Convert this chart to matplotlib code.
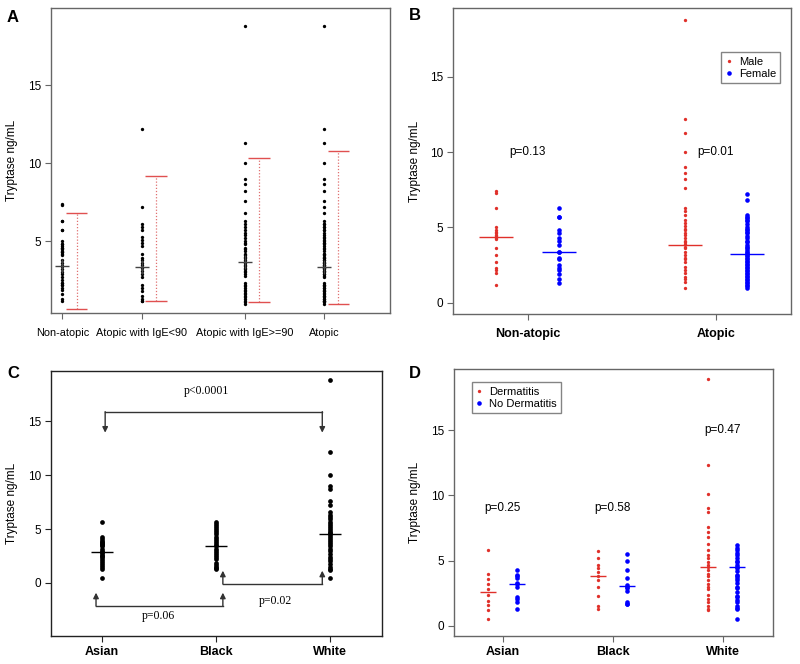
import matplotlib
matplotlib.use('Agg')
import matplotlib.pyplot as plt
import numpy as np

plt.rcParams['font.family'] = ['Liberation Sans', 'DejaVu Sans']

# ---------------- Panel A data ----------------
a_categories = ["Non-atopic", "Atopic with IgE<90", "Atopic with IgE>=90", "Atopic"]
a_positions = [1.0, 2.0, 3.3, 4.3]
a_ige_lt90 = [12.2, 7.2, 6.1, 5.9, 5.7, 5.3, 5.1, 4.9, 4.7, 4.2, 3.9, 3.8, 3.6, 3.5,
              3.3, 3.1, 2.9, 2.7, 2.2, 2.0, 1.8, 1.5, 1.3, 1.2, 1.2]
a_ige_ge90 = [18.8, 11.3, 10.0, 9.0, 8.7, 8.2, 7.6, 6.8, 6.3, 6.1, 5.9, 5.7, 5.5, 5.4,
              5.2, 5.0, 4.9, 4.8, 4.6, 4.5, 4.4, 4.2, 4.1, 4.0, 3.9, 3.8, 3.7, 3.6,
              3.5, 3.4, 3.3, 3.2, 3.1, 3.0, 2.9, 2.8, 2.3, 2.2, 2.1, 2.0, 1.9, 1.8,
              1.7, 1.6, 1.5, 1.4, 1.3, 1.2, 1.1, 1.0]
a_center = [3.44, 3.37, 3.69, 3.37]
a_upper = [6.79, 9.21, 10.34, 10.81]
a_lower = [0.66, 1.17, 1.09, 0.98]

# ---------------- Panel B data ----------------
b_categories = ["Non-atopic", "Atopic"]
b_male_nonatopic = [7.4, 7.3, 6.3, 5.0, 4.8, 4.7, 4.6, 4.5, 4.4, 4.3, 4.2, 3.6, 3.2,
                    2.7, 2.3, 2.2, 2.0, 1.2]
b_female_nonatopic = [6.3, 5.7, 5.7, 4.8, 4.6, 4.3, 4.1, 3.8, 3.4, 3.4, 3.0, 2.9, 2.5,
                      2.3, 2.2, 1.9, 1.6, 1.3]
b_male_atopic = [18.8, 12.2, 11.3, 10.0, 9.0, 8.6, 8.2, 7.6, 6.3, 6.1, 5.8, 5.5, 5.3,
                 5.1, 4.9, 4.8, 4.6, 4.5, 4.3, 4.1, 4.0, 3.9, 3.7, 3.6, 3.4, 3.2, 3.0,
                 2.9, 2.7, 2.4, 2.2, 2.0, 1.7, 1.6, 1.4, 1.0]
b_female_atopic = [7.2, 6.8, 5.8, 5.7, 5.6, 5.5, 5.4, 5.2, 5.0, 4.9, 4.8, 4.7, 4.6, 4.4,
                   4.3, 4.1, 4.0, 3.8, 3.7, 3.6, 3.5, 3.4, 3.3, 3.2, 3.1, 3.0, 2.9, 2.8,
                   2.7, 2.6, 2.5, 2.4, 2.3, 2.2, 2.1, 2.0, 1.9, 1.8, 1.7, 1.6, 1.5, 1.4,
                   1.3, 1.2, 1.1, 1.0]
b_male_mean = [4.35, 3.83]
b_female_mean = [3.35, 3.23]
b_pvalues = ["p=0.13", "p=0.01"]

# ---------------- Panel C data ----------------
c_categories = ["Asian", "Black", "White"]
c_asian = [5.7, 4.3, 4.1, 3.9, 3.8, 3.7, 3.6, 3.5, 3.4, 3.2, 3.0, 2.9, 2.8, 2.6, 2.5,
           2.4, 2.2, 2.0, 1.9, 1.7, 1.5, 1.3, 0.5]
c_black = [5.7, 5.5, 5.3, 5.1, 4.9, 4.7, 4.5, 4.3, 4.1, 3.9, 3.7, 3.5, 3.4, 3.2, 3.0,
           2.8, 2.6, 2.4, 2.2, 1.9, 1.7, 1.5, 1.4, 1.3]
c_white = [18.8, 12.2, 10.0, 9.0, 8.7, 7.6, 7.2, 6.6, 6.3, 6.1, 5.9, 5.7, 5.5, 5.3, 5.1,
           4.9, 4.7, 4.6, 4.5, 4.4, 4.2, 4.0, 3.8, 3.6, 3.4, 3.2, 3.0, 2.7, 2.4, 2.2,
           2.0, 1.8, 1.5, 1.3, 1.2, 0.5]
c_mean = [2.91, 3.47, 4.55]
c_pvalues = ["p<0.0001", "p=0.06", "p=0.02"]

# ---------------- Panel D data ----------------
d_categories = ["Asian", "Black", "White"]
d_derm = [
    [5.8, 4.0, 3.6, 3.2, 2.8, 2.4, 1.9, 1.6, 1.2, 0.5],
    [5.7, 5.2, 4.7, 4.4, 4.1, 3.8, 3.5, 3.0, 2.3, 1.5, 1.3],
    [18.9, 12.3, 10.1, 9.0, 8.7, 7.6, 7.2, 6.8, 6.3, 5.8, 5.4, 5.2, 4.9, 4.7, 4.5, 4.3,
     4.0, 3.8, 3.5, 3.2, 3.0, 2.8, 2.4, 2.1, 1.8, 1.5, 1.3, 1.2],
]
d_noderm = [
    [4.3, 3.9, 3.8, 3.7, 3.3, 3.2, 3.0, 2.2, 2.1, 1.8, 1.3],
    [5.5, 5.0, 4.3, 3.7, 3.1, 3.0, 2.9, 2.7, 1.8, 1.7, 1.7],
    [6.2, 6.0, 5.8, 5.6, 5.4, 5.2, 5.0, 4.9, 4.7, 4.5, 4.4, 4.2, 3.9, 3.8, 3.7, 3.5,
     3.3, 3.0, 2.9, 2.6, 2.3, 2.2, 2.0, 1.8, 1.5, 1.4, 1.3, 0.5],
]
d_derm_mean = [2.58, 3.83, 4.54]
d_noderm_mean = [3.22, 3.06, 4.54]
d_pvalues = ["p=0.25", "p=0.58", "p=0.47"]

# ---------------- styling helpers ----------------
RED = '#e0302a'
BLUE = '#0000ff'
GRAY = '#666666'
W, H = 800, 664

fig = plt.figure(figsize=(8, 6.64), dpi=100)


def make_axes(x0, y0, x1, y1):
    return fig.add_axes([x0 / W, 1 - y1 / H, (x1 - x0) / W, (y1 - y0) / H])


def style(ax, spine_color=GRAY, bold_x=False):
    for s in ax.spines.values():
        s.set_color(spine_color)
        s.set_linewidth(1.0)
    ax.tick_params(direction='out', length=4, width=0.8, color=spine_color,
                   labelsize=8.5, pad=3)
    ax.set_ylabel('Tryptase ng/mL', fontsize=8.5, labelpad=7)
    if bold_x:
        for t in ax.get_xticklabels():
            t.set_fontweight('bold')
            t.set_fontsize(9)


# ---------------- Panel A ----------------
axA = make_axes(51, 8.3, 390, 313)
a_groups = [b_male_nonatopic + b_female_nonatopic, a_ige_lt90, a_ige_ge90,
            a_ige_lt90 + a_ige_ge90]
for x, vals, c, lo, hi in zip(a_positions, a_groups, a_center, a_lower, a_upper):
    axA.plot(np.full(len(vals), x), vals, 'o', ms=2.4, color='black', mec='none')
    axA.plot([x], [c], '+', ms=10, mew=1.0, color='#444444')
    ex = x + 0.18
    axA.vlines(ex, lo, hi, colors='#e07070', linestyles=(0, (1, 1.5)), lw=0.9)
    axA.hlines([lo, hi], ex - 0.137, ex + 0.137, colors='#e05050', lw=1.0)
axA.set_xlim(0.858, 5.13)
axA.set_ylim(0.40, 19.94)
axA.set_yticks([5, 10, 15])
axA.set_xticks(a_positions)
axA.set_xticklabels(a_categories)
style(axA)
axA.tick_params(axis='x', pad=7, labelsize=7.8)

# ---------------- Panel B ----------------
axB = make_axes(453.3, 8.3, 790.7, 314.3)
b_pos = [1, 2]
off = 1 / 6
male_groups = [b_male_nonatopic, b_male_atopic]
female_groups = [b_female_nonatopic, b_female_atopic]
for i, x in enumerate(b_pos):
    axB.plot(np.full(len(male_groups[i]), x - off), male_groups[i], 'o', ms=2.4,
             color=RED, mec='none', label='Male' if i == 0 else None)
    axB.plot(np.full(len(female_groups[i]), x + off), female_groups[i], 'o', ms=3.3,
             color=BLUE, mec='none', label='Female' if i == 0 else None)
    axB.hlines(b_male_mean[i], x - off - 0.09, x - off + 0.09, colors=RED, lw=1.0)
    axB.hlines(b_female_mean[i], x + off - 0.09, x + off + 0.09, colors=BLUE, lw=1.0)
    axB.text(x, 10, b_pvalues[i], ha='center', va='center', fontsize=8.5)
axB.set_xlim(0.605, 2.397)
axB.set_ylim(-0.77, 19.55)
axB.set_yticks([0, 5, 10, 15])
axB.set_xticks(b_pos)
axB.set_xticklabels(b_categories)
style(axB, bold_x=True)
axB.tick_params(axis='x', pad=6)
legB = axB.legend(loc='upper right', bbox_to_anchor=(786 / W, 1 - 46.7 / H),
                  bbox_transform=fig.transFigure, fontsize=8, frameon=True,
                  fancybox=False, edgecolor=GRAY, handlelength=0.6,
                  handletextpad=0.6, borderpad=0.4, labelspacing=0.2, markerscale=1.0)
legB.get_frame().set_linewidth(1.0)

# ---------------- Panel C ----------------
axC = make_axes(51, 370.7, 381.7, 636)
c_pos = [1, 2, 3]
for x, vals, m in zip(c_pos, [c_asian, c_black, c_white], c_mean):
    axC.plot(np.full(len(vals), x), vals, 'o', ms=3.4, color='black', mec='none')
    axC.hlines(m, x - 0.095, x + 0.095, colors='black', lw=1.0)
    axC.vlines(x, m - 0.4, m + 0.4, colors='black', lw=1.0)

LC = '#333333'
arrow_kw = dict(arrowstyle='-|>', color=LC, lw=1.0, mutation_scale=8,
                shrinkA=0, shrinkB=0)


def bracket(ax, x1, x2, ybar, ytip):
    ax.plot([x1, x2], [ybar, ybar], color=LC, lw=1.0)
    for xx in (x1, x2):
        ax.annotate('', xy=(xx, ytip), xytext=(xx, ybar), arrowprops=arrow_kw)


bracket(axC, 1.03, 2.93, 15.9, 13.95)
bracket(axC, 0.95, 2.06, -2.14, -0.9)
bracket(axC, 2.06, 2.93, -0.1, 1.14)
serif = ['Liberation Serif', 'DejaVu Serif']
axC.text(1.92, 17.8, c_pvalues[0], ha='center', va='center', fontsize=8.5, family=serif)
axC.text(1.50, -3.06, c_pvalues[1], ha='center', va='center', fontsize=8.5, family=serif)
axC.text(2.52, -1.64, c_pvalues[2], ha='center', va='center', fontsize=8.5, family=serif)
axC.set_xlim(0.556, 3.45)
axC.set_ylim(-4.92, 19.7)
axC.set_yticks([0, 5, 10, 15])
axC.set_xticks(c_pos)
axC.set_xticklabels(c_categories)
style(axC, spine_color='#222222', bold_x=True)

# ---------------- Panel D ----------------
axD = make_axes(454, 369.3, 773.3, 636)
d_pos = [1, 2, 3]
doff = 0.13
for i, x in enumerate(d_pos):
    axD.plot(np.full(len(d_derm[i]), x - doff), d_derm[i], 'o', ms=2.4, color=RED,
             mec='none', label='Dermatitis' if i == 0 else None)
    axD.plot(np.full(len(d_noderm[i]), x + doff), d_noderm[i], 'o', ms=3.3, color=BLUE,
             mec='none', label='No Dermatitis' if i == 0 else None)
    axD.hlines(d_derm_mean[i], x - doff - 0.073, x - doff + 0.073, colors=RED, lw=1.0)
    axD.hlines(d_noderm_mean[i], x + doff - 0.073, x + doff + 0.073, colors=BLUE, lw=1.0)
d_ptext_y = [9.0, 9.0, 15.0]
for x, t, yy in zip(d_pos, d_pvalues, d_ptext_y):
    axD.text(x, yy, t, ha='center', va='center', fontsize=8.5)
axD.set_xlim(0.557, 3.46)
axD.set_ylim(-0.77, 19.65)
axD.set_yticks([0, 5, 10, 15])
axD.set_xticks(d_pos)
axD.set_xticklabels(d_categories)
style(axD, bold_x=True)
legD = axD.legend(loc='upper left', bbox_to_anchor=(466 / W, 1 - 376.7 / H),
                  bbox_transform=fig.transFigure, fontsize=8, frameon=True,
                  fancybox=False, edgecolor=GRAY, handlelength=0.6,
                  handletextpad=0.6, borderpad=0.4, labelspacing=0.2)
legD.get_frame().set_linewidth(1.0)

# ---------------- panel letters ----------------
for lbl, (px, py) in zip("ABCD", [(13, 17), (415, 15), (13, 373), (415, 373)]):
    fig.text(px / W, 1 - py / H, lbl, fontsize=12, fontweight='bold',
             ha='center', va='center')

fig.savefig('out.png', dpi=100)
